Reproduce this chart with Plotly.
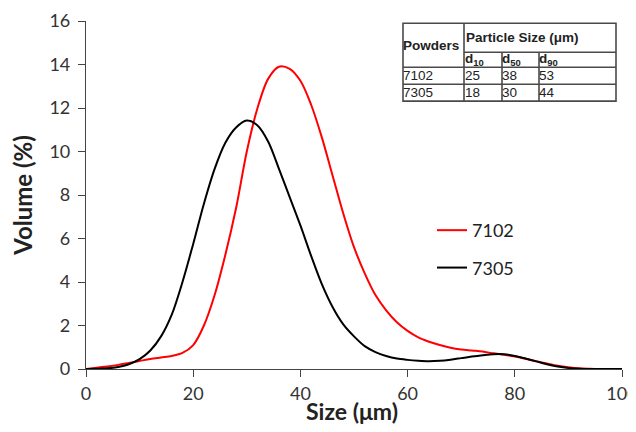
import plotly.graph_objects as go

# Data
size_um = [0, 2, 4, 6, 8, 10, 12, 14, 16, 18, 20, 22, 24, 26, 28, 30, 32, 34, 36, 38,
           40, 42, 44, 46, 48, 50, 52, 54, 56, 58, 60, 62, 64, 66, 68, 70, 72, 74, 76, 78,
           80, 82, 84, 86, 88, 90, 92, 94, 96, 98, 100]
vol_7102 = [0.0, 0.06, 0.12, 0.19, 0.28, 0.37, 0.46, 0.53, 0.6, 0.74, 1.1, 2.0, 3.4, 5.25, 7.4, 10.0, 12.0, 13.35, 13.9, 13.8,
            13.25, 12.15, 10.65, 8.9, 7.15, 5.6, 4.4, 3.4, 2.7, 2.15, 1.75, 1.45, 1.25, 1.1, 0.98, 0.9, 0.85, 0.8, 0.72, 0.65,
            0.57, 0.47, 0.36, 0.25, 0.15, 0.08, 0.03, 0.01, 0.0, 0.0, 0.0]
vol_7305 = [0.0, 0.01, 0.03, 0.09, 0.22, 0.45, 0.85, 1.5, 2.5, 4.0, 5.75, 7.6, 9.2, 10.4, 11.1, 11.42, 11.2, 10.45, 9.2, 7.9,
            6.6, 5.2, 3.9, 2.85, 2.05, 1.5, 1.05, 0.78, 0.6, 0.48, 0.42, 0.38, 0.36, 0.38, 0.43, 0.5, 0.57, 0.63, 0.68, 0.68,
            0.6, 0.48, 0.35, 0.22, 0.12, 0.05, 0.01, 0.0, 0.0, 0.0, 0.0]

x_ticks = [0, 20, 40, 60, 80, 100]
y_ticks = [0, 2, 4, 6, 8, 10, 12, 14, 16]

table_powders = ["7102", "7305"]
table_d10 = [25, 18]
table_d50 = [38, 30]
table_d90 = [53, 44]

# page body has an 8px margin; size the figure so the plot lands where the reference has it
OFF = 8
W, H = 636 - OFF, 432 - OFF
PL, PR, PT, PB = 86, 622, 20.7, 369.3   # plot area in window pixels
L, R, T, B = PL - OFF, W - (PR - OFF), PT - OFF, H - (PB - OFF)


def px(xw):
    return (xw - PL) / (PR - PL)


def py(yw):
    return (PB - yw) / (PB - PT)


fig = go.Figure()
fig.add_trace(go.Scatter(x=size_um, y=vol_7102, mode="lines", name="7102", legendgroup="a",
                         line=dict(color="#ff0000", width=2, shape="spline", smoothing=0.9)))
fig.add_trace(go.Scatter(x=size_um, y=vol_7305, mode="lines", name="7305", legendgroup="b",
                         line=dict(color="#000000", width=2, shape="spline", smoothing=0.9)))

tick_font = dict(family="Lato, Open Sans, sans-serif", size=18, color="#333333")
title_font = dict(family="Lato, Open Sans, sans-serif", size=24, color="#222222")

fig.update_layout(
    width=W, height=H,
    margin=dict(l=L, r=R, t=T, b=B, autoexpand=False),
    paper_bgcolor="white", plot_bgcolor="white",
    showlegend=True,
    legend=dict(x=px(432), y=py(212), xanchor="left", yanchor="top",
                font=dict(family="Lato, Open Sans, sans-serif", size=18, color="#222222"),
                bgcolor="rgba(0,0,0,0)", tracegroupgap=11, traceorder="grouped",
                itemwidth=30),
    xaxis=dict(range=[0, 100], tickvals=x_ticks, ticks="outside", ticklen=7,
               showline=True, linecolor="#444444", linewidth=1.2, tickcolor="#444444",
               showgrid=False, zeroline=False, tickfont=tick_font, ticklabelstandoff=1,
               ticklabeloverflow="allow", automargin=False),
    yaxis=dict(range=[0, 16], tickvals=y_ticks, ticks="outside", ticklen=7,
               showline=True, linecolor="#444444", linewidth=1.2, tickcolor="#444444",
               showgrid=False, zeroline=False, tickfont=tick_font, ticklabelstandoff=4,
               automargin=False,
               title=dict(text="<b>Volume (%)</b>", font=title_font, standoff=10)),
)

# x-axis title placed as an annotation so it sits as close to the labels as in the reference
fig.add_annotation(x=px(352), y=py(396), xref="paper", yref="paper", text="<b>Size (μm)</b>",
                   showarrow=False, xanchor="center", yanchor="top",
                   font=dict(family="Lato, Open Sans, sans-serif", size=23, color="#222222"),
                   borderpad=0)

# Inset table (window pixel positions)
tl, tr, tt, tb = 403, 616, 23, 101
c1, c2, c3 = 464, 502, 539
r1, r2, r3 = 52, 67, 84
lc = dict(color="#4a4a4a", width=1.6)


def hline(x0, x1, y):
    fig.add_shape(type="line", xref="paper", yref="paper", x0=px(x0), x1=px(x1),
                  y0=py(y), y1=py(y), line=lc)


def vline(x, y0, y1):
    fig.add_shape(type="line", xref="paper", yref="paper", x0=px(x), x1=px(x),
                  y0=py(y0), y1=py(y1), line=lc)


fig.add_shape(type="rect", xref="paper", yref="paper", x0=px(tl), x1=px(tr),
              y0=py(tb), y1=py(tt), line=lc, fillcolor="white")
vline(c1, tt, tb)
hline(c1, tr, r1)
vline(c2, r1, tb)
vline(c3, r1, tb)
hline(tl, tr, r2)
hline(tl, tr, r3)

tfont = dict(family="Liberation Sans, Arial, sans-serif", size=13.5, color="#222222")


def txt(x, y, s, bold=False):
    fig.add_annotation(x=px(x), y=py(y), xref="paper", yref="paper",
                       text=("<b>%s</b>" % s) if bold else s,
                       showarrow=False, xanchor="left", yanchor="middle", font=tfont,
                       borderpad=0)


txt(402, 45, "Powders", True)
txt(465, 37, "Particle Size (μm)", True)
txt(464, 59.5, "d<sub>10</sub>", True)
txt(501, 59.5, "d<sub>50</sub>", True)
txt(538, 59.5, "d<sub>90</sub>", True)
rows_y = [75.5, 92.5]
for i in range(len(table_powders)):
    txt(402, rows_y[i], table_powders[i])
    txt(464, rows_y[i], str(table_d10[i]))
    txt(501, rows_y[i], str(table_d50[i]))
    txt(538, rows_y[i], str(table_d90[i]))

fig.write_html("out.html")
